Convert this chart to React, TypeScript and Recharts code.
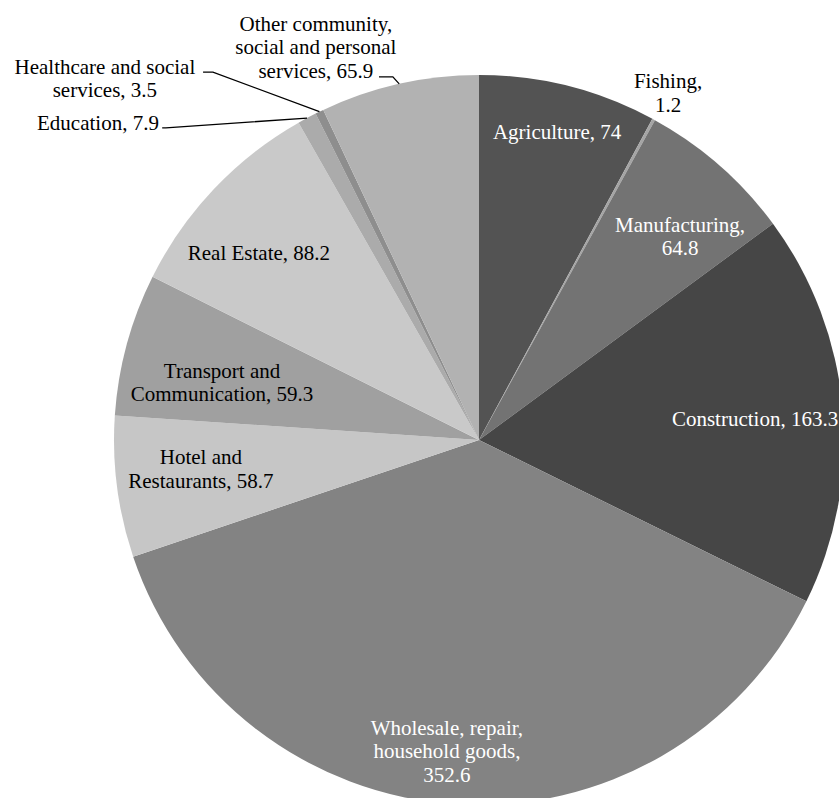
import React from 'react';
import { PieChart, Pie, Cell } from 'recharts';

const sectors = [
  'Agriculture',
  'Fishing',
  'Manufacturing',
  'Construction',
  'Wholesale, repair, household goods',
  'Hotel and Restaurants',
  'Transport and Communication',
  'Real Estate',
  'Education',
  'Healthcare and social services',
  'Other community, social and personal services',
];
const values = [74, 1.2, 64.8, 163.3, 352.6, 58.7, 59.3, 88.2, 7.9, 3.5, 65.9];
const colors = [
  '#535353', '#a5a5a5', '#737373', '#464646', '#838383', '#c6c6c6',
  '#a0a0a0', '#c9c9c9', '#ababab', '#8e8e8e', '#b2b2b2',
];
const labelLines: string[][] = [
  ['Agriculture, 74'],
  ['Fishing,', '1.2'],
  ['Manufacturing,', '64.8'],
  ['Construction, 163.3'],
  ['Wholesale, repair,', 'household goods,', '352.6'],
  ['Hotel and', 'Restaurants, 58.7'],
  ['Transport and', 'Communication, 59.3'],
  ['Real Estate, 88.2'],
  ['Education, 7.9'],
  ['Healthcare and social', 'services, 3.5'],
  ['Other community,', 'social and personal', 'services, 65.9'],
];

type Placement = {
  fx: number;
  fy: number;
  anchor: 'start' | 'middle' | 'end';
  fill: string;
  leader?: [number, number, number];
};

// label placement relative to pie centre, in units of the outer radius
const placements: Placement[] = [
  { fx: 0.214, fy: -0.825, anchor: 'middle', fill: '#ffffff' },
  { fx: 0.518, fy: -0.964, anchor: 'middle', fill: '#000000' },
  { fx: 0.551, fy: -0.57, anchor: 'middle', fill: '#ffffff' },
  { fx: 0.984, fy: -0.038, anchor: 'end', fill: '#ffffff' },
  { fx: -0.088, fy: 0.808, anchor: 'middle', fill: '#ffffff' },
  { fx: -0.762, fy: 0.066, anchor: 'middle', fill: '#000000' },
  { fx: -0.704, fy: -0.17, anchor: 'middle', fill: '#000000' },
  { fx: -0.603, fy: -0.493, anchor: 'middle', fill: '#000000' },
  { fx: -0.877, fy: -0.849, anchor: 'end', fill: '#000000', leader: [-0.868, -0.855, -0.858] },
  { fx: -1.025, fy: -1.003, anchor: 'middle', fill: '#000000', leader: [-0.756, -1.008, -0.729] },
  { fx: -0.447, fy: -1.121, anchor: 'middle', fill: '#000000', leader: [-0.274, -0.995, -0.236] },
];

const data = sectors.map((name, i) => ({ name, value: values[i] }));

const RAD = Math.PI / 180;
const FONT = '"Liberation Serif", "Times New Roman", serif';
const FONT_SIZE = 21;
const LINE_H = 23.5;

const renderLabel = (props: any) => {
  const { cx, cy, midAngle, outerRadius, index } = props;
  const p = placements[index];
  const x = cx + p.fx * outerRadius;
  const y = cy + p.fy * outerRadius;
  const lines = labelLines[index];
  let leader: React.ReactNode = null;
  if (p.leader) {
    const ax = cx + outerRadius * Math.cos(-midAngle * RAD);
    const ay = cy + outerRadius * Math.sin(-midAngle * RAD);
    const sx = cx + p.leader[0] * outerRadius;
    const sy = cy + p.leader[1] * outerRadius;
    const hx = cx + p.leader[2] * outerRadius;
    leader = (
      <polyline
        points={`${sx},${sy} ${hx},${sy} ${ax},${ay}`}
        fill="none"
        stroke="#000"
        strokeWidth={1.3}
      />
    );
  }
  return (
    <g key={`lbl-${index}`}>
      {leader}
      <text
        x={x}
        y={y}
        textAnchor={p.anchor}
        fill={p.fill}
        fontFamily={FONT}
        fontSize={FONT_SIZE}
      >
        {lines.map((l, i) => (
          <tspan key={i} x={x} dy={i === 0 ? 0 : LINE_H}>
            {l}
          </tspan>
        ))}
      </text>
    </g>
  );
};

export default function App() {
  return (
    <div style={{ position: 'absolute', left: 0, top: 0, width: 839, height: 798, background: '#fff' }}>
      <PieChart width={839} height={798} margin={{ top: 0, right: 0, bottom: 0, left: 0 }}>
        <Pie
          data={data}
          dataKey="value"
          nameKey="name"
          cx={479}
          cy={440}
          outerRadius={365}
          startAngle={90}
          endAngle={-270}
          stroke="none"
          isAnimationActive={false}
          label={renderLabel}
          labelLine={false}
        >
          {data.map((d, i) => (
            <Cell key={d.name} fill={colors[i]} />
          ))}
        </Pie>
      </PieChart>
    </div>
  );
}
